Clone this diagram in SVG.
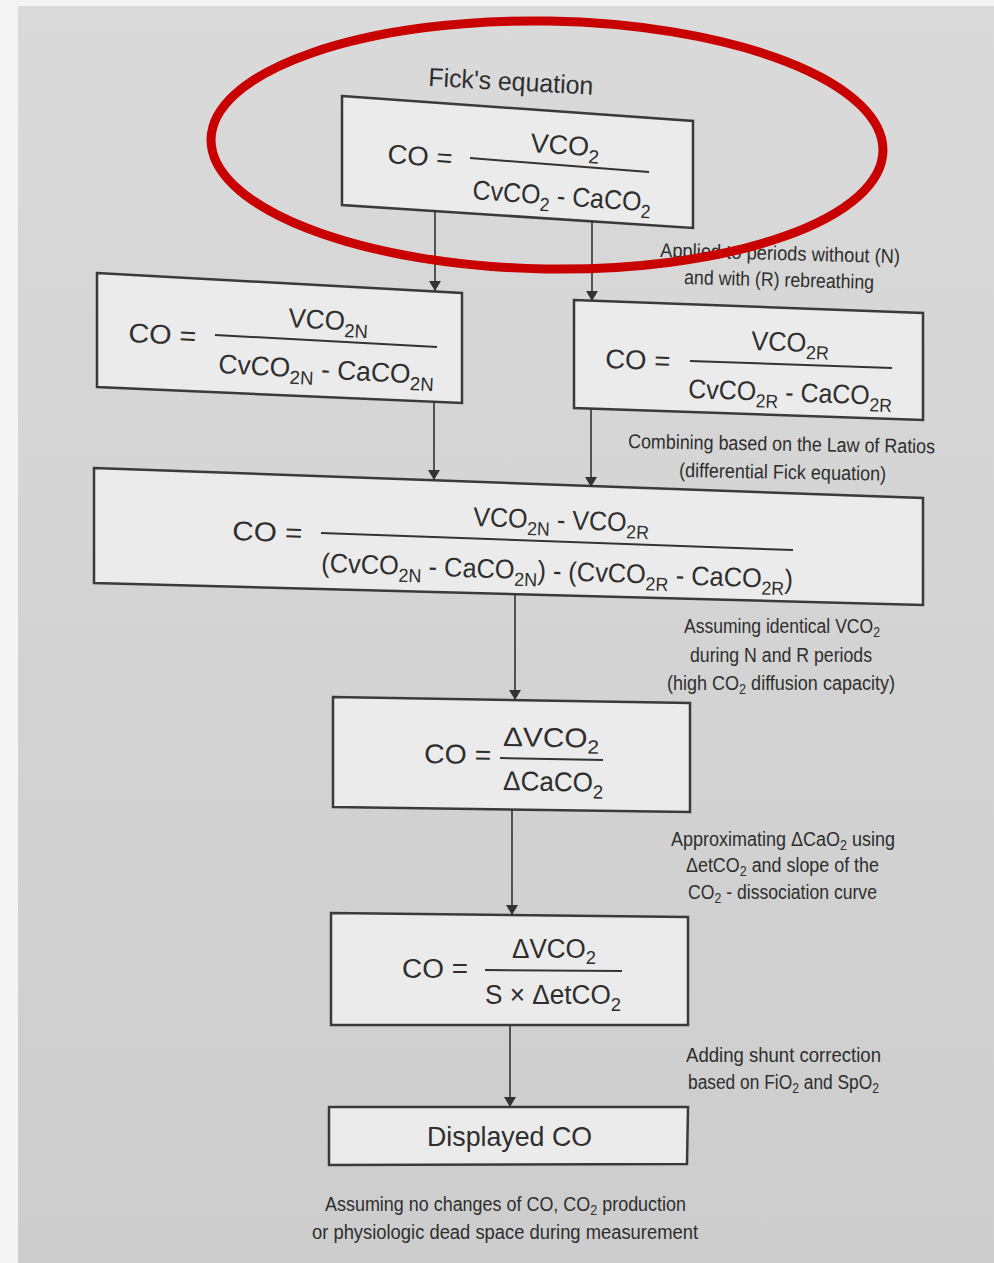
<svg xmlns="http://www.w3.org/2000/svg" width="994" height="1263" viewBox="0 0 994 1263">
<style>
.box{fill:#ebebeb;stroke:#3a3a3a;stroke-width:2.5}
.f{font-family:"Liberation Sans Narrow","Liberation Sans",Arial,sans-serif;fill:#2e2e2e}
.eq{font-size:27px}
.lb{font-size:20px}
.frac{stroke:#333;stroke-width:2;fill:none}
.conn line{stroke:#333;stroke-width:1.6;marker-end:url(#ah)}
</style>
<defs>
<marker id="ah" viewBox="0 0 10 16" refX="10" refY="8" markerWidth="10" markerHeight="16" markerUnits="userSpaceOnUse" orient="auto">
<path d="M0,2 L10,8 L0,14 Z" fill="#333"/>
</marker>
<linearGradient id="bg" x1="0" y1="0" x2="0" y2="1">
<stop offset="0" stop-color="#dadada"/>
<stop offset="1" stop-color="#cdcdcd"/>
</linearGradient>
</defs>
<rect x="0" y="0" width="994" height="1263" fill="#f4f4f4"/>
<rect x="18" y="6" width="976" height="1257" fill="url(#bg)"/>

<g id="title">
<text class="f" x="428" y="86" font-size="26" textLength="165" lengthAdjust="spacingAndGlyphs" transform="rotate(3 428 86)">Fick's equation</text>
</g>

<g id="node-fick">
<polygon class="box" points="342,96 693,121 693,228 342,205"/>
<text class="f eq" x="387" y="163" textLength="65" lengthAdjust="spacingAndGlyphs" transform="rotate(4 387 163)">CO =</text>
<text class="f eq" x="530" y="152" transform="rotate(4 530 152)">VCO<tspan font-size="19" dy="7">2</tspan></text>
<line class="frac" x1="470" y1="158" x2="649" y2="172"/>
<text class="f eq" x="472" y="199" textLength="179" lengthAdjust="spacingAndGlyphs" transform="rotate(4 472 199)">CvCO<tspan font-size="19" dy="7">2</tspan><tspan dy="-7"> - CaCO</tspan><tspan font-size="19" dy="7">2</tspan></text>
</g>

<g id="node-n">
<polygon class="box" points="97,273 462,293 462,403 97,387"/>
<text class="f eq" x="128" y="342" textLength="68" lengthAdjust="spacingAndGlyphs" transform="rotate(3 128 342)">CO =</text>
<text class="f eq" x="288" y="327" textLength="80" lengthAdjust="spacingAndGlyphs" transform="rotate(3 288 327)">VCO<tspan font-size="19" dy="7">2N</tspan></text>
<line class="frac" x1="215" y1="335" x2="437" y2="347"/>
<text class="f eq" x="218" y="373" textLength="216" lengthAdjust="spacingAndGlyphs" transform="rotate(3 218 373)">CvCO<tspan font-size="19" dy="7">2N</tspan><tspan dy="-7"> - CaCO</tspan><tspan font-size="19" dy="7">2N</tspan></text>
</g>

<g id="node-r">
<polygon class="box" points="574,300 923,313 923,420 574,408"/>
<text class="f eq" x="605" y="368" textLength="65" lengthAdjust="spacingAndGlyphs" transform="rotate(2 605 368)">CO =</text>
<text class="f eq" x="751" y="350" textLength="78" lengthAdjust="spacingAndGlyphs" transform="rotate(2 751 350)">VCO<tspan font-size="19" dy="7">2R</tspan></text>
<line class="frac" x1="690" y1="361" x2="892" y2="368"/>
<text class="f eq" x="688" y="398" textLength="204" lengthAdjust="spacingAndGlyphs" transform="rotate(2 688 398)">CvCO<tspan font-size="19" dy="7">2R</tspan><tspan dy="-7"> - CaCO</tspan><tspan font-size="19" dy="7">2R</tspan></text>
</g>

<g id="node-diff">
<polygon class="box" points="94,468 923,498 923,605 94,583"/>
<text class="f eq" x="232" y="540" textLength="70" lengthAdjust="spacingAndGlyphs" transform="rotate(2 232 540)">CO =</text>
<text class="f eq" x="473" y="526" textLength="176" lengthAdjust="spacingAndGlyphs" transform="rotate(2 473 526)">VCO<tspan font-size="19" dy="7">2N</tspan><tspan dy="-7"> - VCO</tspan><tspan font-size="19" dy="7">2R</tspan></text>
<line class="frac" x1="321" y1="533" x2="793" y2="550"/>
<text class="f eq" x="321" y="572" textLength="472" lengthAdjust="spacingAndGlyphs" transform="rotate(2 321 572)">(CvCO<tspan font-size="19" dy="7">2N</tspan><tspan dy="-7"> - CaCO</tspan><tspan font-size="19" dy="7">2N</tspan><tspan dy="-7">) - (CvCO</tspan><tspan font-size="19" dy="7">2R</tspan><tspan dy="-7"> - CaCO</tspan><tspan font-size="19" dy="7">2R</tspan><tspan dy="-7">)</tspan></text>
</g>

<g id="node-delta">
<polygon class="box" points="333,697 690,703 690,812 333,807"/>
<text class="f eq" x="424" y="763" textLength="67" lengthAdjust="spacingAndGlyphs" transform="rotate(1 424 763)">CO =</text>
<text class="f eq" x="503" y="746" textLength="96" lengthAdjust="spacingAndGlyphs" transform="rotate(1 503 746)">ΔVCO<tspan font-size="19" dy="6">2</tspan></text>
<line class="frac" x1="500" y1="758" x2="603" y2="760"/>
<text class="f eq" x="503" y="790" textLength="100" lengthAdjust="spacingAndGlyphs" transform="rotate(1 503 790)">ΔCaCO<tspan font-size="19" dy="7">2</tspan></text>
</g>

<g id="node-slope">
<polygon class="box" points="331,913 688,917 688,1025 331,1025"/>
<text class="f eq" x="402" y="978" textLength="66" lengthAdjust="spacingAndGlyphs">CO =</text>
<text class="f eq" x="512" y="958" textLength="84" lengthAdjust="spacingAndGlyphs">ΔVCO<tspan font-size="19" dy="6">2</tspan></text>
<line class="frac" x1="485" y1="970" x2="622" y2="971"/>
<text class="f eq" x="485" y="1004" textLength="136" lengthAdjust="spacingAndGlyphs">S × ΔetCO<tspan font-size="19" dy="7">2</tspan></text>
</g>

<g id="node-displayed">
<polygon class="box" points="329,1107 688,1107 687,1164 329,1165"/>
<text class="f" x="427" y="1146" font-size="28" textLength="165" lengthAdjust="spacingAndGlyphs">Displayed CO</text>
</g>

<g id="connectors" class="conn">
<line x1="435" y1="211" x2="435" y2="291"/>
<line x1="592" y1="222" x2="592" y2="301"/>
<line x1="434" y1="402" x2="434" y2="480"/>
<line x1="591" y1="409" x2="591" y2="487"/>
<line x1="515" y1="594" x2="515" y2="700"/>
<line x1="512" y1="810" x2="512" y2="915"/>
<line x1="510" y1="1025" x2="510" y2="1107"/>
</g>

<g id="labels">
<text class="f lb" x="660" y="257" textLength="240" lengthAdjust="spacingAndGlyphs" transform="rotate(1.5 660 257)">Applied to periods without (N)</text>
<text class="f lb" x="684" y="284" textLength="190" lengthAdjust="spacingAndGlyphs" transform="rotate(1.5 684 284)">and with (R) rebreathing</text>
<text class="f lb" x="628" y="448" textLength="307" lengthAdjust="spacingAndGlyphs" transform="rotate(1 628 448)">Combining based on the Law of Ratios</text>
<text class="f lb" x="679" y="477" textLength="207" lengthAdjust="spacingAndGlyphs" transform="rotate(1 679 477)">(differential Fick equation)</text>
<text class="f lb" x="684" y="633" textLength="196" lengthAdjust="spacingAndGlyphs">Assuming identical VCO<tspan font-size="14" dy="4">2</tspan></text>
<text class="f lb" x="690" y="662" textLength="182" lengthAdjust="spacingAndGlyphs">during N and R periods</text>
<text class="f lb" x="667" y="690" textLength="228" lengthAdjust="spacingAndGlyphs">(high CO<tspan font-size="14" dy="4">2</tspan><tspan dy="-4"> diffusion capacity)</tspan></text>
<text class="f lb" x="671" y="846" textLength="224" lengthAdjust="spacingAndGlyphs">Approximating ΔCaO<tspan font-size="14" dy="4">2</tspan><tspan dy="-4"> using</tspan></text>
<text class="f lb" x="686" y="872" textLength="193" lengthAdjust="spacingAndGlyphs">ΔetCO<tspan font-size="14" dy="4">2</tspan><tspan dy="-4"> and slope of the</tspan></text>
<text class="f lb" x="688" y="899" textLength="189" lengthAdjust="spacingAndGlyphs">CO<tspan font-size="14" dy="4">2</tspan><tspan dy="-4"> - dissociation curve</tspan></text>
<text class="f lb" x="686" y="1062" textLength="195" lengthAdjust="spacingAndGlyphs">Adding shunt correction</text>
<text class="f lb" x="688" y="1089" textLength="191" lengthAdjust="spacingAndGlyphs">based on FiO<tspan font-size="14" dy="4">2</tspan><tspan dy="-4"> and SpO</tspan><tspan font-size="14" dy="4">2</tspan></text>
<text class="f lb" x="325" y="1211" textLength="361" lengthAdjust="spacingAndGlyphs">Assuming no changes of CO, CO<tspan font-size="14" dy="4">2</tspan><tspan dy="-4"> production</tspan></text>
<text class="f lb" x="312" y="1239" textLength="386" lengthAdjust="spacingAndGlyphs">or physiologic dead space during measurement</text>
</g>

<g id="highlight">
<ellipse cx="547" cy="145" rx="336" ry="124" fill="none" stroke="#c80000" stroke-width="9" transform="rotate(1 547 145)"/>
</g>
</svg>
